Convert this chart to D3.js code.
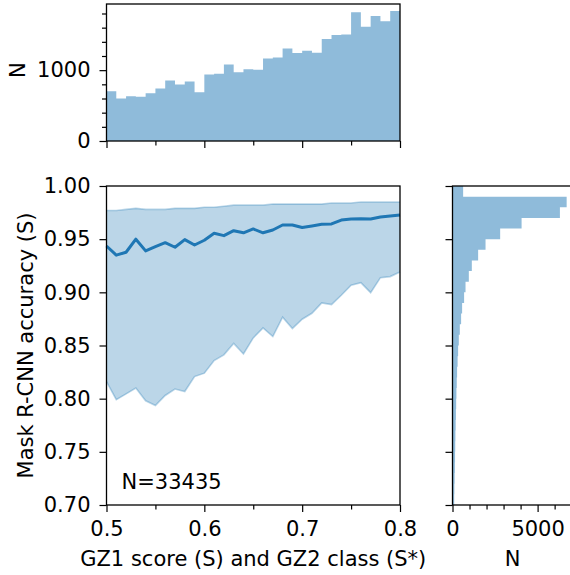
<!DOCTYPE html>
<html>
<head>
<meta charset="utf-8">
<script src="https://cdn.jsdelivr.net/npm/d3@7"></script>
<style>
  body { margin: 0; background: #fff; }
  svg { font-family: 'DejaVu Sans', sans-serif; }
  .axis path { display: none; }
  .axis line { stroke: #000; stroke-width: 1.2; }
  .axis text { font-size: 21px; fill: #000; font-family: 'DejaVu Sans', sans-serif; }
</style>
</head>
<body>
<script>
// score bins (S), 0.50 .. 0.80
const scoreEdges = [0.50, 0.51, 0.52, 0.53, 0.54, 0.55, 0.56, 0.57, 0.58, 0.59, 0.60,
  0.61, 0.62, 0.63, 0.64, 0.65, 0.66, 0.67, 0.68, 0.69, 0.70,
  0.71, 0.72, 0.73, 0.74, 0.75, 0.76, 0.77, 0.78, 0.79, 0.80];
const scoreCounts = [703, 599, 632, 623, 675, 741, 854, 797, 840, 689,
  939, 948, 1080, 972, 1014, 1005, 1165, 1179, 1307, 1241,
  1274, 1245, 1439, 1495, 1505, 1816, 1613, 1764, 1689, 1835];

// accuracy per score: mean and spread band
const meanAcc = [0.9436, 0.935, 0.9377, 0.950, 0.939, 0.943, 0.9467, 0.9424, 0.9496, 0.9445,
  0.949, 0.9555, 0.9533, 0.958, 0.956, 0.9596, 0.956, 0.9586, 0.9633, 0.9633,
  0.9609, 0.9624, 0.964, 0.9643, 0.968, 0.969, 0.9693, 0.969, 0.9709, 0.9718, 0.9727];
const upperAcc = [0.977, 0.977, 0.978, 0.979, 0.978, 0.978, 0.978, 0.979, 0.979, 0.979,
  0.980, 0.980, 0.981, 0.982, 0.982, 0.982, 0.982, 0.983, 0.983, 0.983,
  0.983, 0.983, 0.983, 0.984, 0.984, 0.984, 0.985, 0.985, 0.985, 0.985, 0.985];
const lowerAcc = [0.816, 0.799, 0.8045, 0.810, 0.798, 0.7935, 0.803, 0.809, 0.8067, 0.8208,
  0.824, 0.8358, 0.8412, 0.852, 0.842, 0.8571, 0.8665, 0.8584, 0.8766, 0.8659,
  0.8747, 0.8803, 0.890, 0.8885, 0.8973, 0.9067, 0.9091, 0.8997, 0.9138, 0.9148, 0.9192];

// accuracy histogram, bins 0.70 .. 1.00
const accEdges = [0.70, 0.71, 0.72, 0.73, 0.74, 0.75, 0.76, 0.77, 0.78, 0.79, 0.80,
  0.81, 0.82, 0.83, 0.84, 0.85, 0.86, 0.87, 0.88, 0.89, 0.90,
  0.91, 0.92, 0.93, 0.94, 0.95, 0.96, 0.97, 0.98, 0.99, 1.00];
const accCounts = [100, 110, 125, 140, 150, 160, 170, 185, 200, 215,
  230, 250, 270, 300, 330, 370, 429, 506, 565, 682,
  765, 959, 1135, 1506, 1941, 2800, 4059, 6310, 6706, 625];

const scoreTicks = [0.5, 0.6, 0.7, 0.8];
const scoreMinor = [0.55, 0.65, 0.75];
const accTicks = [0.70, 0.75, 0.80, 0.85, 0.90, 0.95, 1.00];
const countTicks = [0, 1000];
const countMinor = [200, 400, 600, 800, 1200, 1400, 1600, 1800];
const accCountTicks = [0, 5000];
const accCountMinor = [1000, 2000, 3000, 4000, 6000, 7000];

const W = 570, H = 575;
const histColor = '#8fbbda', blue = '#1f77b4';

const svg = d3.select('body').append('svg')
  .attr('width', W).attr('height', H);

const x = d3.scaleLinear().domain([0.5, 0.8]).range([106.5, 400]);
const yTop = d3.scaleLinear().domain([0, 1934]).range([141, 4]);
const y = d3.scaleLinear().domain([0.70, 1.00]).range([505, 186]);
const xRight = d3.scaleLinear().domain([0, 7050]).range([452.5, 572.5]);

// step points: each count starts at its bin edge, last one repeated at the closing edge
const topSteps = scoreEdges.map((e, i) => [e, scoreCounts[Math.min(i, scoreCounts.length - 1)]]);
const rightSteps = accEdges.map((e, i) => [e, accCounts[Math.min(i, accCounts.length - 1)]]);

// top histogram (stepfilled)
svg.append('path')
  .datum(topSteps)
  .attr('d', d3.area().curve(d3.curveStepAfter)
    .x((d) => x(d[0])).y0(yTop(0)).y1((d) => yTop(d[1])))
  .attr('fill', histColor);

// main band and mean line
const pts = scoreEdges.map((s, i) => ({ s: s, m: meanAcc[i], lo: lowerAcc[i], hi: upperAcc[i] }));

svg.append('path')
  .datum(pts)
  .attr('d', d3.area().x((d) => x(d.s)).y0((d) => y(d.lo)).y1((d) => y(d.hi)))
  .attr('fill', blue).attr('fill-opacity', 0.3);

['lo', 'hi'].forEach(function(k) {
  svg.append('path')
    .datum(pts)
    .attr('d', d3.line().x((d) => x(d.s)).y((d) => y(d[k])))
    .attr('fill', 'none')
    .attr('stroke', blue).attr('stroke-opacity', 0.3)
    .attr('stroke-width', 1.6);
});

svg.append('path')
  .datum(pts)
  .attr('d', d3.line().x((d) => x(d.s)).y((d) => y(d.m)))
  .attr('fill', 'none')
  .attr('stroke', blue)
  .attr('stroke-width', 3)
  .attr('stroke-linejoin', 'round');

svg.append('text')
  .attr('x', 121.5).attr('y', 489)
  .attr('font-size', 21)
  .text('N=33435');

// right histogram (stepfilled, horizontal)
svg.append('path')
  .datum(rightSteps)
  .attr('d', d3.area().curve(d3.curveStepBefore)
    .y((d) => y(d[0])).x0(xRight(0)).x1((d) => xRight(d[1])))
  .attr('fill', histColor);

// axes
function addAxis(axis, tx, ty) {
  return svg.append('g')
    .attr('class', 'axis')
    .attr('transform', 'translate(' + tx + ',' + ty + ')')
    .call(axis);
}

const intFmt = d3.format('d');

addAxis(d3.axisLeft(yTop).tickValues(countTicks).tickSize(7).tickPadding(9).tickFormat(intFmt), x(0.5), 0);
addAxis(d3.axisLeft(yTop).tickValues(countMinor).tickSize(4.5).tickFormat(''), x(0.5), 0);
addAxis(d3.axisBottom(x).tickValues(scoreTicks).tickSize(7).tickFormat(''), 0, yTop(0));
addAxis(d3.axisBottom(x).tickValues(scoreMinor).tickSize(4.5).tickFormat(''), 0, yTop(0));

addAxis(d3.axisLeft(y).tickValues(accTicks).tickSize(7).tickPadding(9).tickFormat(d3.format('.2f')), x(0.5), 0);
addAxis(d3.axisBottom(x).tickValues(scoreTicks).tickSize(7).tickPadding(9).tickFormat(d3.format('.1f')), 0, y(0.70));
addAxis(d3.axisBottom(x).tickValues(scoreMinor).tickSize(4.5).tickFormat(''), 0, y(0.70));

addAxis(d3.axisLeft(y).tickValues(accTicks).tickSize(7).tickFormat(''), xRight(0), 0);
addAxis(d3.axisBottom(xRight).tickValues(accCountTicks).tickSize(7).tickPadding(9).tickFormat(intFmt), 0, y(0.70));
addAxis(d3.axisBottom(xRight).tickValues(accCountMinor).tickSize(4.5).tickFormat(''), 0, y(0.70));

svg.selectAll('.axis .tick text').attr('font-size', 21);

// frames
[[x(0.5), yTop(1934), x(0.8), yTop(0)],
 [x(0.5), y(1.0), x(0.8), y(0.70)],
 [xRight(0), y(1.0), xRight(7050), y(0.70)]].forEach(function(b) {
  svg.append('rect')
    .attr('x', b[0]).attr('y', b[1])
    .attr('width', b[2] - b[0]).attr('height', b[3] - b[1])
    .attr('fill', 'none').attr('stroke', '#000').attr('stroke-width', 1.3);
});

// axis titles
svg.append('text')
  .attr('transform', 'translate(25,' + yTop(1000) + ') rotate(-90)')
  .attr('text-anchor', 'middle').attr('font-size', 21)
  .text('N');

svg.append('text')
  .attr('transform', 'translate(33,' + ((y(1.0) + y(0.70)) / 2) + ') rotate(-90)')
  .attr('text-anchor', 'middle').attr('font-size', 21)
  .text('Mask R-CNN accuracy (S)');

svg.append('text')
  .attr('x', (x(0.5) + x(0.8)) / 2).attr('y', 566)
  .attr('text-anchor', 'middle').attr('font-size', 21)
  .text('GZ1 score (S) and GZ2 class (S*)');

svg.append('text')
  .attr('x', (xRight(0) + xRight(7050)) / 2).attr('y', 566)
  .attr('text-anchor', 'middle').attr('font-size', 21)
  .text('N');
</script>
</body>
</html>
